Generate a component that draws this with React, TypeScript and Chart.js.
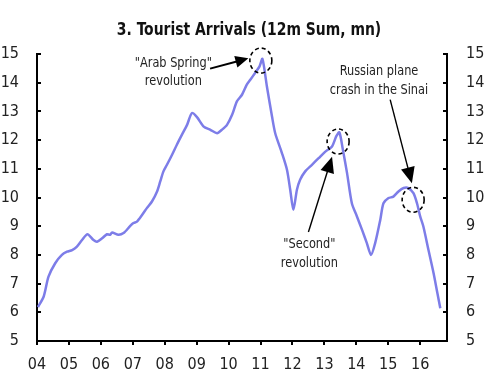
import React, { useEffect, useRef } from "react";
import { Chart, registerables } from "chart.js";

Chart.register(...registerables);

// ---- Data (decimal year, 12m sum of tourist arrivals, mn) ----
const years = [
  2004.03, 2004.21, 2004.36, 2004.57, 2004.78, 2004.94, 2005.1, 2005.25, 2005.41, 2005.58,
  2005.77, 2005.88, 2006.04, 2006.19, 2006.29, 2006.35, 2006.55, 2006.71, 2006.92, 2007.02,
  2007.13, 2007.29, 2007.44, 2007.6, 2007.76, 2007.86, 2007.96, 2008.07, 2008.23, 2008.38,
  2008.54, 2008.7, 2008.85, 2009.01, 2009.22, 2009.43, 2009.64, 2009.79, 2009.95, 2010.11,
  2010.26, 2010.42, 2010.57, 2010.68, 2010.83, 2010.97, 2011.06, 2011.2, 2011.36, 2011.46,
  2011.67, 2011.83, 2011.93, 2012.03, 2012.14, 2012.24, 2012.4, 2012.61, 2012.82, 2013.03,
  2013.24, 2013.37, 2013.47, 2013.58, 2013.71, 2013.86, 2014.02, 2014.18, 2014.33, 2014.46,
  2014.59, 2014.75, 2014.85, 2015.01, 2015.16, 2015.32, 2015.48, 2015.63, 2015.79, 2015.9,
  2016.0, 2016.1, 2016.26, 2016.42, 2016.54, 2016.63,
];
const arrivals = [
  6.18, 6.55, 7.24, 7.71, 8.0, 8.11, 8.17, 8.29, 8.52, 8.72,
  8.52, 8.46, 8.58, 8.72, 8.7, 8.78, 8.7, 8.76, 9.01, 9.11,
  9.16, 9.39, 9.63, 9.86, 10.21, 10.56, 10.91, 11.14, 11.49, 11.84,
  12.19, 12.53, 12.94, 12.8, 12.47, 12.36, 12.24, 12.36, 12.53, 12.88,
  13.35, 13.58, 13.93, 14.1, 14.34, 14.57, 14.83, 13.87, 12.82, 12.24,
  11.55, 10.96, 10.27, 9.57, 10.27, 10.62, 10.91, 11.14, 11.37, 11.6,
  11.78, 12.13, 12.27, 11.66, 10.85, 9.8, 9.34, 8.87, 8.41, 8.0,
  8.41, 9.22, 9.8, 9.98, 10.03, 10.21, 10.33, 10.33, 10.15, 9.8,
  9.34, 8.99, 8.17, 7.36, 6.66, 6.14,
];

const xTickYears = [2004, 2005, 2006, 2007, 2008, 2009, 2010, 2011, 2012, 2013, 2014, 2015, 2016];
const yTicks = [5, 6, 7, 8, 9, 10, 11, 12, 13, 14, 15];
const xMin = 2004;
const xMax = 2016.84;
const yMin = 5;
const yMax = 15;

const chartTitle = "3. Tourist Arrivals (12m Sum, mn)";

// Annotations (in data units: year, value)
const noteTexts = [
  ['"Arab Spring"', "revolution"],
  ["Russian plane", "crash in the Sinai"],
  ['"Second"', "revolution"],
];
const noteX = [2008.27, 2014.71, 2012.53];
const noteY = [
  [14.66, 14.03],
  [14.4, 13.75],
  [8.35, 7.72],
];
const circleX = [2011.01, 2013.43, 2015.78];
const circleY = [14.77, 11.95, 9.92];
const arrowTail = [
  [2009.42, 14.49],
  [2015.06, 13.41],
  [2012.5, 8.8],
];
const arrowTip = [
  [2010.62, 14.85],
  [2015.74, 10.5],
  [2013.24, 11.42],
];

const FONT = "'Liberation Sans Narrow', 'DejaVu Sans Condensed', 'Liberation Sans', sans-serif";
const LINE_COLOR = "#7d7de8";

function drawArrow(ctx: CanvasRenderingContext2D, x1: number, y1: number, x2: number, y2: number, headLen: number, headHalf: number, lw: number) {
  const dx = x2 - x1;
  const dy = y2 - y1;
  const len = Math.hypot(dx, dy);
  const ux = dx / len;
  const uy = dy / len;
  const bx = x2 - ux * headLen;
  const by = y2 - uy * headLen;
  ctx.save();
  ctx.strokeStyle = "#000";
  ctx.fillStyle = "#000";
  ctx.lineWidth = lw;
  ctx.setLineDash([]);
  ctx.beginPath();
  ctx.moveTo(x1, y1);
  ctx.lineTo(bx + ux * 1, by + uy * 1);
  ctx.stroke();
  ctx.beginPath();
  ctx.moveTo(x2, y2);
  ctx.lineTo(bx - uy * headHalf, by + ux * headHalf);
  ctx.lineTo(bx + uy * headHalf, by - ux * headHalf);
  ctx.closePath();
  ctx.fill();
  ctx.restore();
}

function condensedText(ctx: CanvasRenderingContext2D, text: string, x: number, y: number, sx: number) {
  ctx.save();
  ctx.translate(x, y);
  ctx.scale(sx, 1);
  ctx.fillText(text, 0, 0);
  ctx.restore();
}

const decorPlugin = {
  id: "decor",
  afterDraw(chart: any) {
    const ctx: CanvasRenderingContext2D = chart.ctx;
    const xs = chart.scales.x;
    const ys = chart.scales.y;
    const area = chart.chartArea;

    ctx.save();
    // title
    ctx.fillStyle = "#111";
    ctx.font = `bold 18px ${FONT}`;
    ctx.textAlign = "center";
    ctx.textBaseline = "middle";
    condensedText(ctx, chartTitle, 249, 30, 0.86);

    // tick marks
    ctx.strokeStyle = "#000";
    ctx.lineWidth = 2;
    for (const v of yTicks) {
      const y = Math.round(ys.getPixelForValue(v));
      ctx.beginPath();
      ctx.moveTo(area.left, y);
      ctx.lineTo(area.left + 4, y);
      ctx.moveTo(area.right, y);
      ctx.lineTo(area.right - 4, y);
      ctx.stroke();
    }
    for (const v of xTickYears) {
      const x = Math.round(xs.getPixelForValue(v));
      ctx.beginPath();
      ctx.moveTo(x, area.bottom);
      ctx.lineTo(x, area.bottom + 4);
      ctx.stroke();
    }

    // dashed circles
    ctx.lineWidth = 1.6;
    ctx.setLineDash([4, 3]);
    for (let i = 0; i < circleX.length; i++) {
      const cx = xs.getPixelForValue(circleX[i]);
      const cy = ys.getPixelForValue(circleY[i]);
      ctx.beginPath();
      ctx.ellipse(cx, cy, 11, 12.5, 0, 0, Math.PI * 2);
      ctx.stroke();
    }
    ctx.setLineDash([]);

    // arrows
    for (let i = 0; i < arrowTail.length; i++) {
      drawArrow(
        ctx,
        xs.getPixelForValue(arrowTail[i][0]),
        ys.getPixelForValue(arrowTail[i][1]),
        xs.getPixelForValue(arrowTip[i][0]),
        ys.getPixelForValue(arrowTip[i][1]),
        i === 0 ? 13 : 16,
        i === 0 ? 6 : 7,
        i === 0 ? 2 : 1.4
      );
    }

    // notes
    ctx.fillStyle = "#222";
    ctx.font = `14px ${FONT}`;
    ctx.textAlign = "center";
    ctx.textBaseline = "middle";
    for (let i = 0; i < noteTexts.length; i++) {
      const x = xs.getPixelForValue(noteX[i]);
      noteTexts[i].forEach((t, j) => {
        condensedText(ctx, t, x, ys.getPixelForValue(noteY[i][j]), 0.9);
      });
    }
    ctx.restore();
  },
};

export default function App() {
  const canvasRef = useRef<HTMLCanvasElement | null>(null);

  useEffect(() => {
    document.body.style.margin = "0";
    const canvas = canvasRef.current;
    if (!canvas) return;
    const points = years.map((x, i) => ({ x, y: arrivals[i] }));
    const tickFont = { family: FONT, size: 16 };
    const chart = new Chart(canvas, {
      type: "line",
      data: {
        datasets: [
          {
            data: points,
            borderColor: LINE_COLOR,
            borderWidth: 2.5,
            pointRadius: 0,
            tension: 0.25,
            fill: false,
          },
        ],
      },
      options: {
        animation: false,
        responsive: false,
        maintainAspectRatio: false,
        devicePixelRatio: 1,
        layout: { padding: { top: 54, left: 0, right: 0, bottom: 0 } },
        plugins: {
          legend: { display: false },
          title: { display: false },
          tooltip: { enabled: false },
        },
        scales: {
          x: {
            type: "linear",
            min: xMin,
            max: xMax,
            afterBuildTicks: (s: any) => {
              s.ticks = xTickYears.map((v) => ({ value: v }));
            },
            afterFit: (s: any) => {
              s.height = 34;
            },
            grid: { display: false },
            border: { display: true, color: "#000", width: 2 },
            ticks: {
              font: tickFont,
              color: "#222",
              padding: 6,
              maxRotation: 0,
              autoSkip: false,
              callback: (v: any) => String(Math.round(Number(v)) % 100).padStart(2, "0"),
            },
          },
          y: {
            type: "linear",
            position: "left",
            min: yMin,
            max: yMax,
            afterBuildTicks: (s: any) => {
              s.ticks = yTicks.map((v) => ({ value: v }));
            },
            afterFit: (s: any) => {
              s.width = 37;
            },
            grid: { display: false },
            border: { display: true, color: "#000", width: 2 },
            ticks: { font: tickFont, color: "#222", padding: 10 },
          },
          y2: {
            type: "linear",
            position: "right",
            min: yMin,
            max: yMax,
            afterBuildTicks: (s: any) => {
              s.ticks = yTicks.map((v) => ({ value: v }));
            },
            afterFit: (s: any) => {
              s.width = 53;
            },
            grid: { display: false },
            border: { display: true, color: "#000", width: 2 },
            ticks: { font: tickFont, color: "#222", padding: 11 },
          },
        },
      },
      plugins: [decorPlugin],
    } as any);
    return () => chart.destroy();
  }, []);

  return (
    <div style={{ width: 500, height: 375 }}>
      <canvas ref={canvasRef} width={500} height={375} style={{ display: "block" }} />
    </div>
  );
}
